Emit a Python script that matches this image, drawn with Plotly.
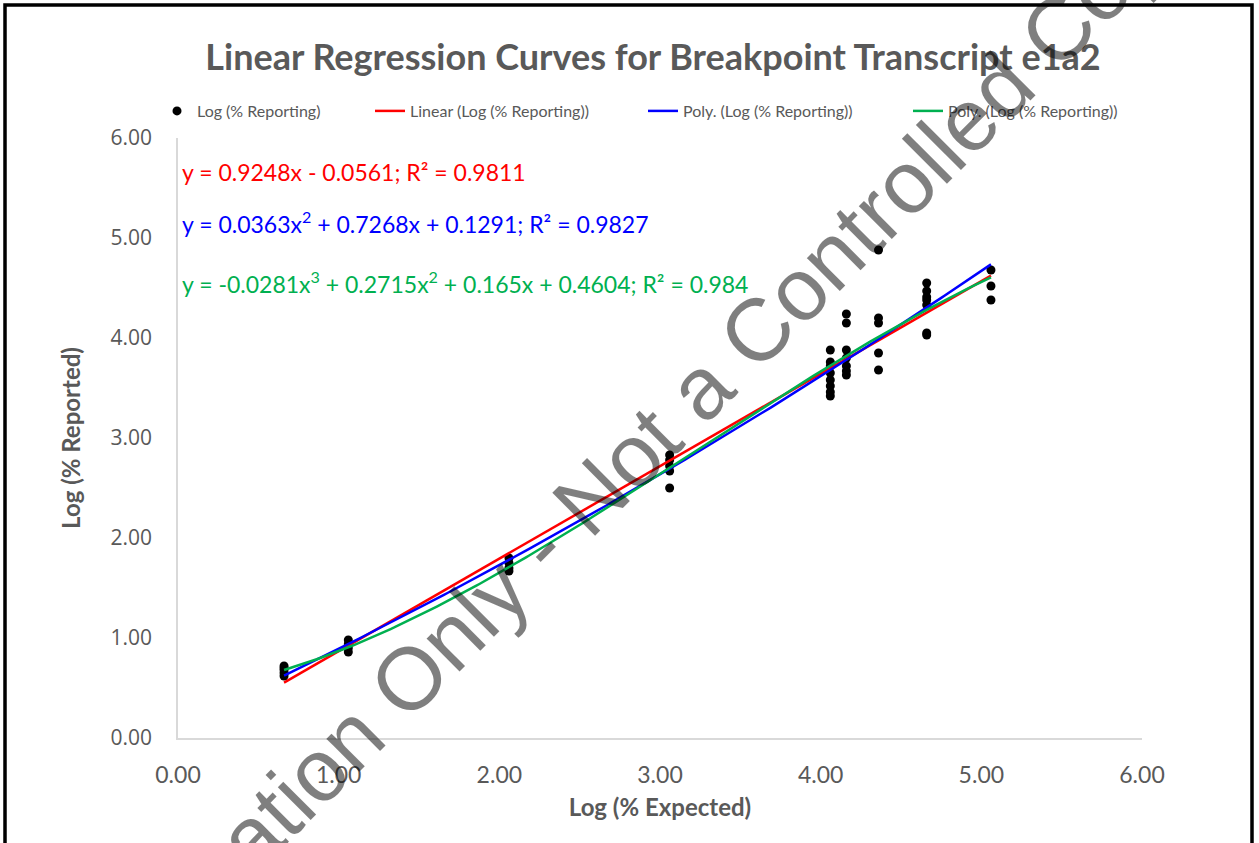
import numpy as np
import plotly.graph_objects as go

# ---------------- data ----------------
x_expected = [0.66]*5 + [1.06]*4 + [2.06]*4 + [3.06]*5 + [4.06]*8 + [4.16]*7 + [4.36]*5 + [4.66]*7 + [5.06]*3
y_reported = [0.62, 0.65, 0.68, 0.70, 0.72,
              0.86, 0.90, 0.94, 0.98,
              1.67, 1.70, 1.75, 1.80,
              2.83, 2.78, 2.72, 2.67, 2.50,
              3.88, 3.76, 3.72, 3.65, 3.58, 3.52, 3.46, 3.42,
              4.24, 4.15, 3.88, 3.80, 3.72, 3.67, 3.63,
              4.88, 4.20, 4.15, 3.85, 3.68,
              4.55, 4.47, 4.41, 4.38, 4.33, 4.05, 4.03,
              4.68, 4.52, 4.38]

linear_coef = [0.9248, -0.0561]                 # highest power first
poly2_coef = [0.0363, 0.7268, 0.1291]
poly3_coef = [-0.0281, 0.2715, 0.165, 0.4604]

eq_linear = "y = 0.9248x - 0.0561; R² = 0.9811"
eq_poly2 = "y = 0.0363x<sup>2</sup> + 0.7268x + 0.1291; R² = 0.9827"
eq_poly3 = "y = -0.0281x<sup>3</sup> + 0.2715x<sup>2</sup> + 0.165x + 0.4604; R² = 0.984"

series_name = "Log (% Reporting)"
trend_names = ["Linear (Log (% Reporting))", "Poly. (Log (% Reporting))", "Poly. (Log (% Reporting))"]
title_text = "Linear Regression Curves for Breakpoint Transcript e1a2"
x_title = "Log (% Expected)"
y_title = "Log (% Reported)"
watermark = "For Information Only - Not a Controlled Copy"
tick_vals = [0, 1, 2, 3, 4, 5, 6]

# ---------------- figure ----------------
W, H = 1259, 843
L, R, T, B = 178, 117, 138, 105
PW, PH = W - L - R, H - T - B


def px(xp):
    return (xp - L) / PW


def py(yp):
    return (H - B - yp) / PH


FONT = "Lato, 'Open Sans', sans-serif"
GREY = "#595959"
colors = ["#ff0000", "#0000ff", "#00b050"]

xs = np.linspace(min(x_expected), max(x_expected), 200)

fig = go.Figure()
fig.add_trace(go.Scatter(x=x_expected, y=y_reported, mode="markers", name=series_name,
                         marker=dict(color="black", size=9), legend="legend"))
for i, (coef, nm, c) in enumerate(zip([linear_coef, poly2_coef, poly3_coef], trend_names, colors)):
    fig.add_trace(go.Scatter(x=xs, y=np.polyval(coef, xs), mode="lines", name=nm,
                             line=dict(color=c, width=2.5), legend="legend%d" % (i + 2)))

legend_x_px = [157, 370, 643, 908]
legend_common = dict(orientation="h", y=py(111), xanchor="left", yanchor="middle",
                     font=dict(size=16, color=GREY, family=FONT), bgcolor="rgba(0,0,0,0)")

fig.update_layout(
    width=W, height=H,
    margin=dict(l=L, r=R, t=T, b=B),
    paper_bgcolor="white", plot_bgcolor="white",
    font=dict(family=FONT, color=GREY),
    title=dict(text="<b>" + title_text + "</b>", x=653 / W, xanchor="center",
               y=1 - 57 / H, yanchor="middle", font=dict(size=36, color=GREY, family=FONT)),
    legend=dict(x=px(legend_x_px[0]), **legend_common),
    legend2=dict(x=px(legend_x_px[1]), **legend_common),
    legend3=dict(x=px(legend_x_px[2]), **legend_common),
    legend4=dict(x=px(legend_x_px[3]), **legend_common),
    showlegend=True,
)
fig.update_xaxes(range=[0, 6], tickvals=tick_vals, tickformat=".2f",
                 showgrid=False, zeroline=False, showline=True, linecolor="#d9d9d9", linewidth=1.5,
                 ticks="", tickfont=dict(size=23, color=GREY), ticklabelstandoff=16,
                 title=dict(text="<b>" + x_title + "</b>", font=dict(size=24, color=GREY), standoff=12))
fig.update_yaxes(range=[0, 6], tickvals=tick_vals, tickformat=".2f",
                 showgrid=False, zeroline=False, showline=True, linecolor="#d9d9d9", linewidth=1.5,
                 ticks="", tickfont=dict(size=21, color=GREY, family="'Open Sans', sans-serif"),
                 ticklabelstandoff=20,
                 title=dict(text="<b>" + y_title + "</b>", font=dict(size=24, color=GREY), standoff=23))

# trendline equations
for txt, c, ypix in zip([eq_linear, eq_poly2, eq_poly3], colors, [172, 222, 282]):
    fig.add_annotation(text=txt, xref="paper", yref="paper", x=px(180), y=py(ypix),
                       xanchor="left", yanchor="middle", showarrow=False,
                       font=dict(size=23, color=c, family=FONT))

# watermark
fig.add_annotation(text=watermark, xref="paper", yref="paper", x=px(563), y=py(524),
                   xanchor="center", yanchor="middle", showarrow=False, textangle=-45,
                   font=dict(size=88, color="rgba(0,0,0,0.5)", family="'Liberation Sans', Arial, sans-serif"))

# outer frame
fig.add_shape(type="rect", xref="paper", yref="paper", x0=px(5), x1=px(1252), y0=py(870), y1=py(5),
              line=dict(color="black", width=3.5), fillcolor="rgba(0,0,0,0)", layer="above")

fig.write_html("out.html", config={"displayModeBar": False},
               post_script="document.body.style.margin='0';")
